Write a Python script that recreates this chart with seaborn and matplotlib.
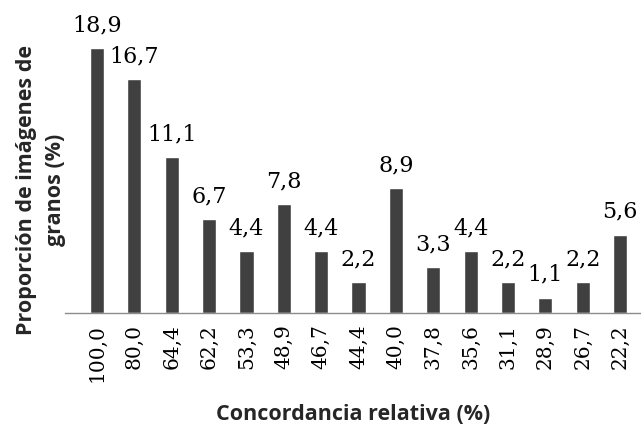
import matplotlib
matplotlib.use("Agg")
import matplotlib.pyplot as plt
import seaborn as sns
import pandas as pd

categories = ["100,0", "80,0", "64,4", "62,2", "53,3", "48,9", "46,7", "44,4",
              "40,0", "37,8", "35,6", "31,1", "28,9", "26,7", "22,2"]
values = [18.9, 16.7, 11.1, 6.7, 4.4, 7.8, 4.4, 2.2, 8.9, 3.3, 4.4, 2.2, 1.1, 2.2, 5.6]

sns.set_theme(style="white")
plt.rcParams['font.family'] = ['DejaVu Sans']

df = pd.DataFrame({"cat": categories, "val": values})

fig = plt.figure(figsize=(6.41, 4.29), dpi=100)
ax = fig.add_axes([0.1014, 0.2704, 0.8986, 0.686])
sns.barplot(data=df, x="cat", y="val", order=categories, color="#404040",
            saturation=1, width=0.38, ax=ax)

ax.set_ylim(0, 21)
ax.set_xlim(-0.857, 14.56)
for s in ["top", "right", "left"]:
    ax.spines[s].set_visible(False)
ax.spines["bottom"].set_color("#8c8c8c")
ax.spines["bottom"].set_linewidth(1.0)
ax.set_yticks([])
ax.tick_params(axis="x", length=0, pad=8)
for lab in ax.get_xticklabels():
    lab.set_rotation(90)
    lab.set_fontfamily("DejaVu Serif")
    lab.set_fontsize(14.5)
    lab.set_color("black")

for i, v in enumerate(values):
    ax.annotate(f"{v:.1f}".replace(".", ","), (i, v), xytext=(0, 12),
                textcoords="offset points", ha="center", va="baseline",
                fontsize=16, family="DejaVu Serif", color="black")

ax.set_xlabel("Concordancia relativa (%)", fontsize=15.5, fontweight="bold",
              family="Open Sans")
ax.xaxis.label.set_va("center")
ax.xaxis.set_label_coords(0.5, -0.346)
ax.set_ylabel("Proporción de imágenes de\ngranos (%)", fontsize=15.5,
              fontweight="bold", family="Open Sans", linespacing=1.45)
ax.yaxis.label.set_va("center")
ax.yaxis.set_label_coords(-0.0417, 0.418)

fig.savefig("out.png", dpi=100)
